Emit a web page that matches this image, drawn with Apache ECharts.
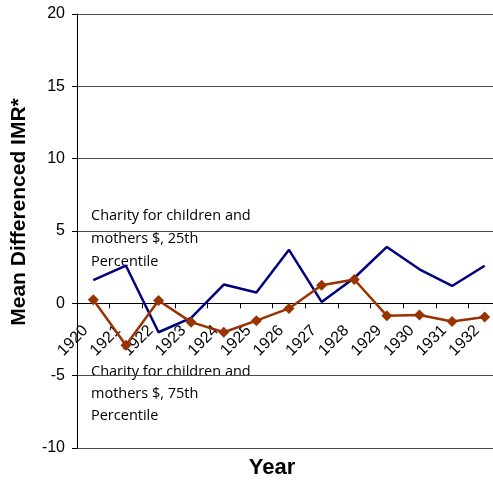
<!DOCTYPE html>
<html>
<head>
<meta charset="utf-8">
<script src="https://cdn.jsdelivr.net/npm/echarts@6/dist/echarts.min.js"></script>
<style>
  html, body { margin: 0; padding: 0; background: #fff; }
  #chart { width: 493px; height: 481px; }
</style>
</head>
<body>
<div id="chart"></div>
<script>
// Years on the category axis
const years = ['1920', '1921', '1922', '1923', '1924', '1925', '1926',
               '1927', '1928', '1929', '1930', '1931', '1932'];

// Mean differenced infant mortality rate by charity spending percentile
const charity25th = [1.6, 2.6, -2.0, -1.0, 1.3, 0.75, 3.7, 0.1, 1.75, 3.9, 2.35, 1.2, 2.6];
const charity75th = [0.25, -2.9, 0.2, -1.3, -2.0, -1.2, -0.35, 1.25, 1.65, -0.85, -0.8, -1.25, -0.95];

const seriesNames = [
  'Charity for children and\nmothers $, 25th\nPercentile',
  'Charity for children and\nmothers $, 75th\nPercentile'
];

const chart = echarts.init(document.getElementById('chart'), null, { renderer: 'canvas' });

const labelFont = '"Liberation Sans", Arial, sans-serif';
const noteFont = '"Open Sans", "Noto Sans", sans-serif';

// Plot box and value range; the category axis is drawn across the zero line
const gridTop = 14, gridHeight = 434;
const yMin = -10, yMax = 20;
const zeroOffset = -gridHeight * (0 - yMin) / (yMax - yMin);

chart.setOption({
  animation: false,
  backgroundColor: '#ffffff',
  grid: {
    left: 77, top: gridTop, width: 424, height: gridHeight,
    containLabel: false, outerBoundsMode: 'none'
  },
  xAxis: {
    type: 'category',
    data: years,
    boundaryGap: true,
    position: 'bottom',
    offset: zeroOffset,
    axisLine: { show: true, onZero: false, lineStyle: { color: '#000', width: 1 } },
    axisTick: { show: true, length: 5, lineStyle: { color: '#000' } },
    axisLabel: {
      rotate: 45, margin: 17, color: '#000',
      padding: [0, 11, 0, 0],
      fontFamily: labelFont, fontSize: 16, interval: 0
    },
    splitLine: { show: false }
  },
  yAxis: {
    type: 'value',
    min: yMin, max: yMax, interval: 5,
    axisLine: { show: true, lineStyle: { color: '#000', width: 1 } },
    axisTick: { show: true, length: 5, lineStyle: { color: '#000' } },
    axisLabel: { margin: 12, color: '#000', fontFamily: labelFont, fontSize: 16 },
    splitLine: { show: true, lineStyle: { color: '#4a4a4a', width: 1 } }
  },
  graphic: [
    {
      type: 'text',
      x: 19, y: 212,
      rotation: Math.PI / 2,
      style: {
        text: 'Mean Differenced IMR*', fill: '#000',
        font: 'bold 21px ' + labelFont,
        textAlign: 'center', textVerticalAlign: 'middle'
      }
    },
    {
      type: 'text',
      x: 272, y: 468,
      style: {
        text: 'Year', fill: '#000', font: 'bold 22px ' + labelFont,
        textAlign: 'center', textVerticalAlign: 'middle'
      }
    },
    {
      type: 'text',
      x: 91, y: 204,
      style: {
        text: seriesNames[0], fill: '#000', font: '14.5px ' + noteFont,
        lineHeight: 23, textAlign: 'left', textVerticalAlign: 'top'
      }
    },
    {
      type: 'text',
      x: 91, y: 361,
      style: {
        text: seriesNames[1], fill: '#000', font: '14.5px ' + noteFont,
        lineHeight: 22, textAlign: 'left', textVerticalAlign: 'top'
      }
    }
  ],
  series: [
    {
      name: '25th',
      type: 'line',
      data: charity25th,
      symbol: 'none',
      lineStyle: { color: '#000080', width: 2.5 },
      itemStyle: { color: '#000080' }
    },
    {
      name: '75th',
      type: 'line',
      data: charity75th,
      symbol: 'diamond',
      symbolSize: 11,
      lineStyle: { color: '#993300', width: 2.5 },
      itemStyle: { color: '#993300' }
    }
  ]
});
</script>
</body>
</html>
